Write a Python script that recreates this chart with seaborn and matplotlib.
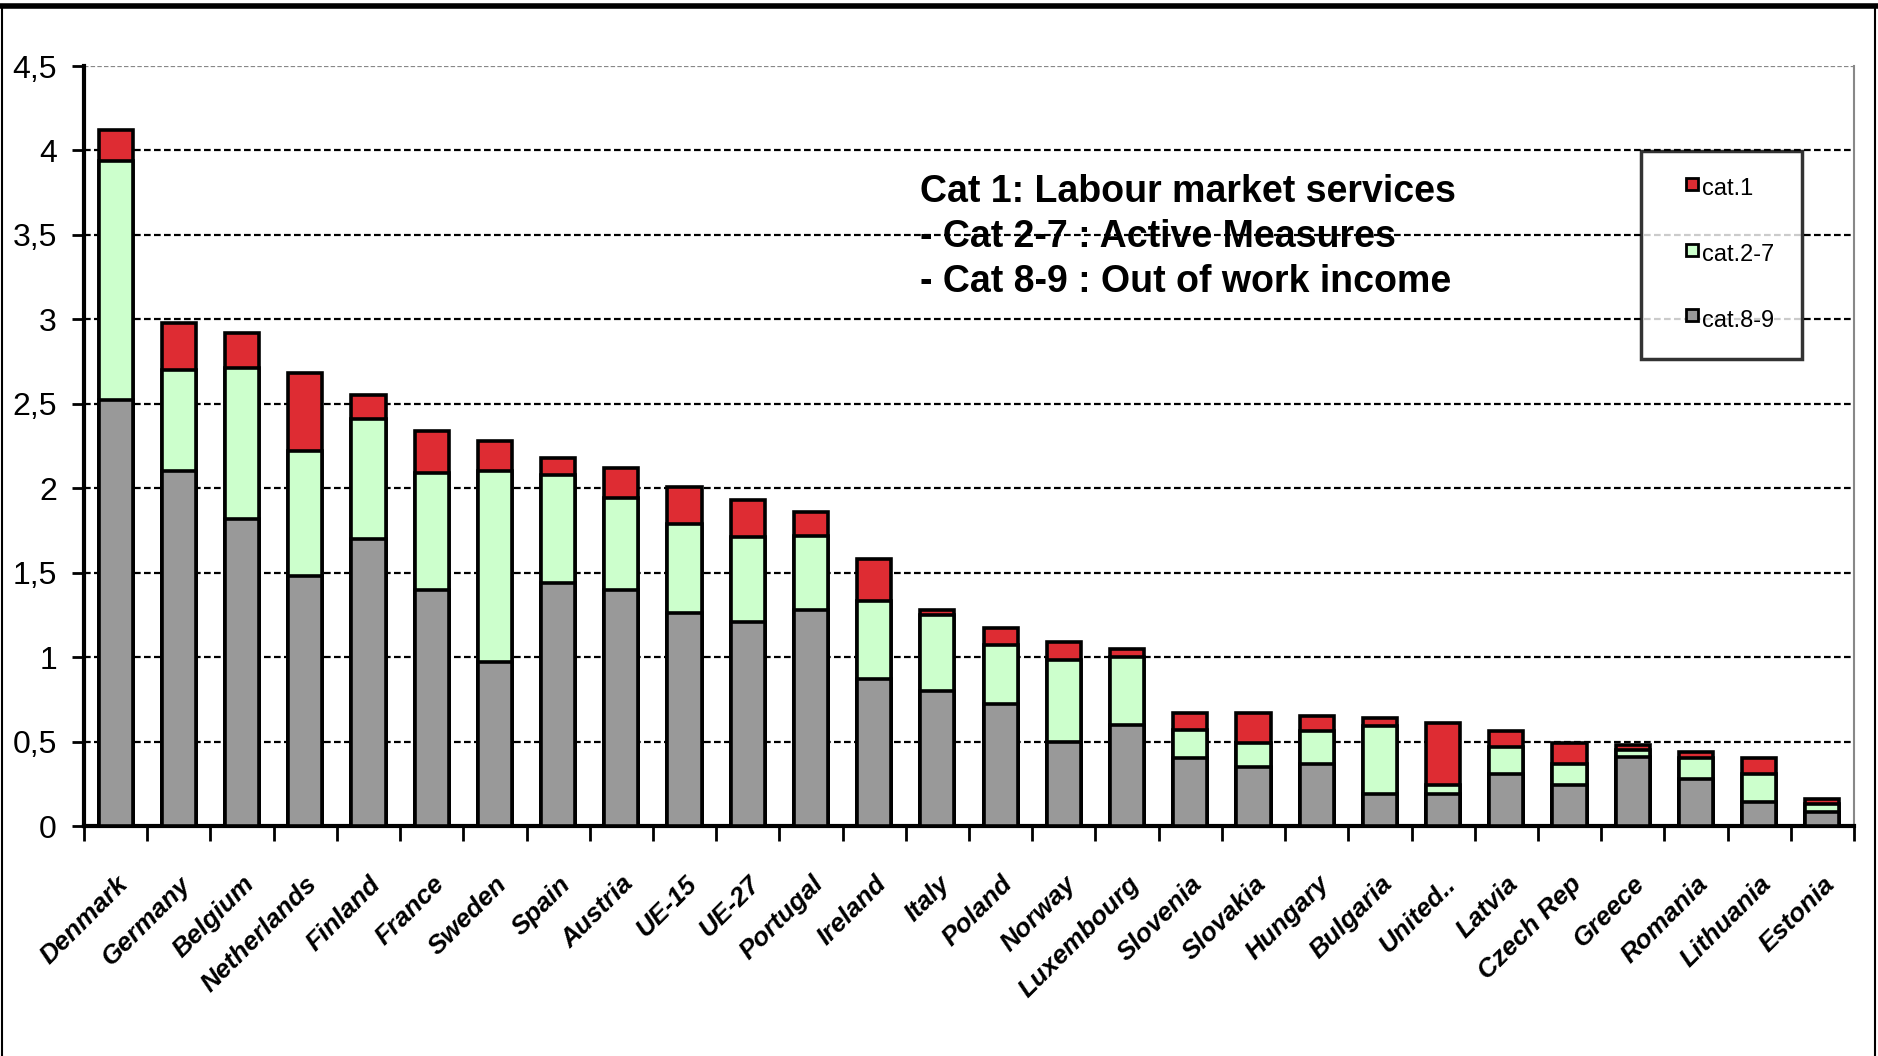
import matplotlib
matplotlib.use("Agg")
import matplotlib.pyplot as plt
import matplotlib.patches as mpatches
from matplotlib.legend_handler import HandlerPatch
from matplotlib.lines import Line2D
import seaborn as sns
import pandas as pd

# Data
countries = ["Denmark", "Germany", "Belgium", "Netherlands", "Finland", "France",
             "Sweden", "Spain", "Austria", "UE-15", "UE-27", "Portugal", "Ireland",
             "Italy", "Poland", "Norway", "Luxembourg", "Slovenia", "Slovakia",
             "Hungary", "Bulgaria", "United..", "Latvia", "Czech Rep", "Greece",
             "Romania", "Lithuania", "Estonia"]
cat89 = [2.52, 2.10, 1.82, 1.48, 1.70, 1.40, 0.97, 1.44, 1.40, 1.26, 1.21, 1.28, 0.87,
         0.80, 0.72, 0.50, 0.60, 0.40, 0.35, 0.37, 0.19, 0.19, 0.31, 0.24, 0.41,
         0.28, 0.14, 0.08]
cat27 = [1.42, 0.60, 0.89, 0.74, 0.71, 0.69, 1.13, 0.64, 0.54, 0.53, 0.50, 0.44, 0.46,
         0.45, 0.35, 0.48, 0.40, 0.17, 0.14, 0.19, 0.40, 0.05, 0.16, 0.13, 0.04,
         0.12, 0.17, 0.05]
cat1 = [0.18, 0.28, 0.21, 0.46, 0.14, 0.25, 0.18, 0.10, 0.18, 0.22, 0.22, 0.14, 0.25,
        0.03, 0.10, 0.11, 0.05, 0.10, 0.18, 0.09, 0.05, 0.37, 0.09, 0.12, 0.03,
        0.04, 0.09, 0.03]

RED = '#DE2C33'
GREEN = '#CCFFCC'
GREY = '#999999'

df = pd.DataFrame({"country": countries, "c89": cat89, "c27": cat27, "c1": cat1})
df["lvl2"] = df["c89"] + df["c27"]
df["lvl3"] = df["lvl2"] + df["c1"]

plt.rcParams['font.family'] = ['Liberation Sans', 'DejaVu Sans']

fig = plt.figure(figsize=(18.78, 10.56), dpi=100)
ax = fig.add_axes([84 / 1878, 1 - 826 / 1056, (1854 - 84) / 1878, (826 - 66) / 1056])

# stacked bars: draw cumulative totals from the top down
bar_kw = dict(width=0.54, edgecolor='black', linewidth=2.6, ax=ax, zorder=3)
sns.barplot(data=df, x="country", y="lvl3", color=RED, saturation=1, **bar_kw)
sns.barplot(data=df, x="country", y="lvl2", color=GREEN, saturation=1, **bar_kw)
sns.barplot(data=df, x="country", y="c89", color=GREY, saturation=1, **bar_kw)

ax.set_xlim(-0.5, len(countries) - 0.5)
ax.set_ylim(0, 4.5)
ax.set_xlabel("")
ax.set_ylabel("")

# grid
for v in [0.5, 1, 1.5, 2, 2.5, 3, 3.5, 4]:
    ax.axhline(v, color='black', linestyle=(0, (3, 1.5)), linewidth=1.6, zorder=1)
ax.axhline(4.5, color='#888888', linestyle=(0, (2, 1)), linewidth=1.6, zorder=1)

yt = [0, 0.5, 1, 1.5, 2, 2.5, 3, 3.5, 4, 4.5]
ax.set_yticks(yt)
ax.set_yticklabels([f"{v:g}".replace('.', ',') for v in yt], fontsize=23)
ax.tick_params(axis='y', length=9, width=2, direction='out', pad=10.5)

ax.set_xticks(range(len(countries)))
ax.set_xticklabels(countries, rotation=45, ha='right', rotation_mode='anchor',
                   fontsize=19, fontweight='bold', fontstyle='italic')
ax.tick_params(axis='x', length=0, pad=33)
ax.set_xticks([i - 0.5 for i in range(len(countries) + 1)], minor=True)
ax.tick_params(axis='x', which='minor', length=11, width=2, direction='out')

for s in ['left', 'bottom']:
    ax.spines[s].set_linewidth(3)
    ax.spines[s].set_color('black')
ax.spines['top'].set_visible(False)
ax.spines['right'].set_color('#888888')
ax.spines['right'].set_linewidth(1.5)

# annotation
notes = ["Cat 1: Labour market services", "- Cat 2-7 : Active Measures",
         "- Cat 8-9 : Out of work income"]
for i, t in enumerate(notes):
    fig.text(920 / 1878, 1 - (192 + i * 45) / 1056, t, fontsize=27, fontweight='bold',
             va='center', ha='left', zorder=5)


# legend: small square sitting at the right end of the handle area
def small_square(legend, orig_handle, xdescent, ydescent, width, height, fontsize):
    s = 12 * 72 / 100
    return mpatches.Rectangle((-xdescent + width - s, -ydescent + (height - s) / 2 + 2), s, s)


handles = [mpatches.Patch(facecolor=c, edgecolor='black', linewidth=2)
           for c in [RED, GREEN, GREY]]
leg = fig.legend(handles, ["cat.1", "cat.2-7", "cat.8-9"], loc='upper left',
                 bbox_to_anchor=(1641 / 1878, 1 - 151 / 1056), frameon=True,
                 fancybox=False, handlelength=1.25, handleheight=0.5, handletextpad=0.2,
                 labelspacing=1.85, borderpad=1.15, borderaxespad=0,
                 handler_map={mpatches.Patch: HandlerPatch(patch_func=small_square)},
                 prop={'size': 17})
leg.get_frame().set_edgecolor('black')
leg.get_frame().set_linewidth(2.5)
leg.set_zorder(6)

# outer frame
fig.add_artist(Line2D([0.001, 0.001], [0, 0.995], transform=fig.transFigure, color='black', lw=1.5))
fig.add_artist(Line2D([0.9985, 0.9985], [0, 0.995], transform=fig.transFigure, color='black', lw=1.5))
fig.add_artist(Line2D([0, 1], [0.9945, 0.9945], transform=fig.transFigure, color='black', lw=4))

fig.savefig("out.png", dpi=100)
